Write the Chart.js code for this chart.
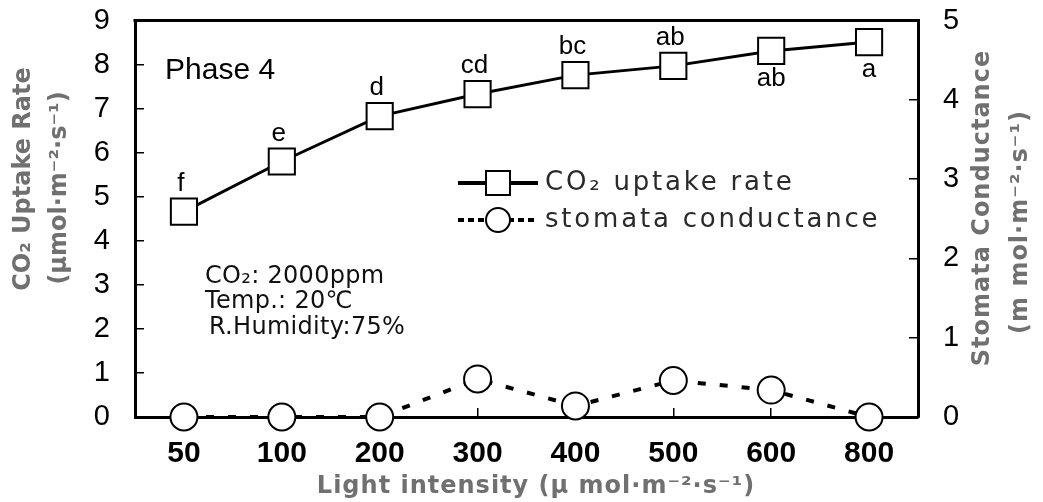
<!DOCTYPE html>
<html>
<head>
<meta charset="utf-8">
<script src="https://cdn.jsdelivr.net/npm/chart.js@4.4.1/dist/chart.umd.min.js"></script>
<style>
  html, body { margin: 0; padding: 0; background: #fff; }
  #wrap { width: 1043px; height: 502px; }
</style>
</head>
<body>
<div id="wrap"><canvas id="uptakeChart"></canvas></div>
<script>
// Lichtstufen und Messwerte
const lightLevels = ['50', '100', '200', '300', '400', '500', '600', '800'];
const co2Uptake = [4.66, 5.8, 6.83, 7.33, 7.76, 7.97, 8.31, 8.51];
const stomataConductance = [0, 0, 0, 0.48, 0.14, 0.46, 0.34, 0];
const sigLetters = ['f', 'e', 'd', 'cd', 'bc', 'ab', 'ab', 'a'];
const letterBelow = [false, false, false, false, false, false, true, true];
const conditions = ['CO\u2082: 2000ppm', 'Temp.: 20\u2103', 'R.Humidity:75%'];

const leftTitle = ['CO\u2082 Uptake Rate', '(\u03bcmol\u00b7m\u207b\u00b2\u00b7s\u207b\u00b9)'];
const rightTitle = ['Stomata Conductance', '(m mol\u00b7m\u207b\u00b2\u00b7s\u207b\u00b9)'];
const xTitle = 'Light intensity (\u03bc mol\u00b7m\u207b\u00b2\u00b7s\u207b\u00b9)';

// Achsen ohne Zusatzabstand für halbe Beschriftungshöhe
function fixAxis(size, horizontal) {
    return (s) => {
        if (horizontal) {
            s.height = size;
            s.paddingLeft = 0;
            s.paddingRight = 0;
        } else {
            s.width = size;
            s.paddingTop = 0;
            s.paddingBottom = 0;
        }
    };
}

// Rahmen, Buchstaben, Legende und Achsentitel zeichnen
const decorPlugin = {
    id: 'decor',
    beforeDatasetsDraw(chart) {
        const ctx = chart.ctx;
        const a = chart.chartArea;
        ctx.save();
        ctx.strokeStyle = '#000';
        ctx.lineWidth = 3;
        ctx.beginPath();
        ctx.moveTo(a.left - 1.5, a.top);
        ctx.lineTo(a.right + 1.5, a.top);
        ctx.stroke();
        ctx.restore();
    },
    afterDatasetsDraw(chart) {
        const ctx = chart.ctx;
        ctx.save();

        // Signifikanzbuchstaben
        const meta = chart.getDatasetMeta(0);
        ctx.fillStyle = '#000';
        ctx.font = '26px "Liberation Sans", Arial, sans-serif';
        ctx.textAlign = 'center';
        meta.data.forEach((pt, i) => {
            if (letterBelow[i]) {
                ctx.textBaseline = 'top';
                ctx.fillText(sigLetters[i], pt.x, pt.y + 15);
            } else {
                ctx.textBaseline = 'bottom';
                ctx.fillText(sigLetters[i], pt.x - 3, pt.y - 15);
            }
        });

        // Phase
        ctx.textAlign = 'left';
        ctx.textBaseline = 'alphabetic';
        ctx.font = '30px "Liberation Sans", Arial, sans-serif';
        ctx.fillText('Phase 4', 165, 79);

        // Versuchsbedingungen
        ctx.fillStyle = '#111';
        ctx.font = '24px "DejaVu Sans", sans-serif';
        ctx.letterSpacing = '0.3px';
        ctx.fillText(conditions[0], 205, 283);
        ctx.fillText(conditions[1], 205, 308);
        ctx.fillText(conditions[2], 209, 334);

        // Legende
        const lx = 458, lw = 80;
        const ly1 = 183, ly2 = 220;
        ctx.strokeStyle = '#000';
        ctx.lineWidth = 4;
        ctx.beginPath();
        ctx.moveTo(lx, ly1);
        ctx.lineTo(lx + lw, ly1);
        ctx.stroke();
        ctx.lineWidth = 2;
        ctx.fillStyle = '#fff';
        ctx.fillRect(lx + lw / 2 - 12, ly1 - 12, 24, 24);
        ctx.strokeRect(lx + lw / 2 - 12, ly1 - 12, 24, 24);

        ctx.lineWidth = 4;
        ctx.setLineDash([6, 4]);
        ctx.beginPath();
        ctx.moveTo(lx, ly2);
        ctx.lineTo(lx + lw, ly2);
        ctx.stroke();
        ctx.setLineDash([]);
        ctx.lineWidth = 2;
        ctx.beginPath();
        ctx.arc(lx + lw / 2, ly2, 12, 0, Math.PI * 2);
        ctx.fill();
        ctx.stroke();

        ctx.fillStyle = '#2a2a2a';
        ctx.font = '26px "DejaVu Sans", sans-serif';
        ctx.letterSpacing = '2.8px';
        ctx.textBaseline = 'middle';
        ctx.fillText(chart.data.datasets[0].label, 545, ly1);
        ctx.fillText(chart.data.datasets[1].label, 545, ly2);

        // Achsentitel (von unten nach oben gelesen)
        ctx.fillStyle = '#707070';
        ctx.font = 'bold 24px "DejaVu Sans", sans-serif';
        ctx.textAlign = 'center';
        const drawVertical = (text, x, y) => {
            ctx.save();
            ctx.translate(x, y);
            ctx.rotate(-Math.PI / 2);
            ctx.fillText(text, 0, 0);
            ctx.restore();
        };
        ctx.letterSpacing = '0px';
        drawVertical(leftTitle[0], 24, 179);
        drawVertical(leftTitle[1], 60, 188);
        ctx.letterSpacing = '1px';
        drawVertical(rightTitle[0], 983, 208);
        drawVertical(rightTitle[1], 1021, 222);
        ctx.fillText(xTitle, 536, 487);

        ctx.restore();
    }
};

const ctx = document.getElementById('uptakeChart').getContext('2d');
window.uptakeChart = new Chart(ctx, {
    type: 'line',
    data: {
        labels: lightLevels,
        datasets: [{
            label: 'CO\u2082 uptake rate',
            data: co2Uptake,
            yAxisID: 'y',
            borderColor: '#000',
            borderWidth: 3,
            pointStyle: 'rect',
            pointRadius: 18.5,
            pointBorderWidth: 2,
            pointBackgroundColor: '#fff',
            pointBorderColor: '#000',
            clip: false
        }, {
            label: 'stomata conductance',
            data: stomataConductance,
            yAxisID: 'y1',
            borderColor: '#000',
            borderWidth: 4,
            borderDash: [8, 14],
            pointStyle: 'circle',
            pointRadius: 13.5,
            pointBorderWidth: 2,
            pointBackgroundColor: '#fff',
            pointBorderColor: '#000',
            clip: false
        }]
    },
    options: {
        responsive: true,
        maintainAspectRatio: false,
        animation: false,
        layout: { padding: { top: 20, left: 0, right: 0, bottom: 0 } },
        plugins: {
            legend: { display: false },
            tooltip: { enabled: false }
        },
        scales: {
            x: {
                offset: true,
                afterFit: fixAxis(85, true),
                border: { display: true, color: '#000', width: 3 },
                grid: { drawOnChartArea: false, tickLength: -9, color: '#000', lineWidth: 1.5 },
                ticks: {
                    color: '#000',
                    padding: 28,
                    font: { family: '"Liberation Sans", Arial, sans-serif', size: 30, weight: 'bold' }
                }
            },
            y: {
                position: 'left',
                min: 0,
                max: 9,
                afterFit: fixAxis(135, false),
                border: { display: true, color: '#000', width: 3 },
                grid: { drawOnChartArea: false, tickLength: -9, color: '#000', lineWidth: 1.5 },
                ticks: {
                    stepSize: 1,
                    color: '#000',
                    padding: 34,
                    font: { family: '"Liberation Sans", Arial, sans-serif', size: 29 }
                }
            },
            y1: {
                position: 'right',
                min: 0,
                max: 5,
                afterFit: fixAxis(125, false),
                border: { display: true, color: '#000', width: 3 },
                grid: { drawOnChartArea: false, tickLength: -9, color: '#000', lineWidth: 1.5 },
                ticks: {
                    stepSize: 1,
                    color: '#000',
                    padding: 34,
                    font: { family: '"Liberation Sans", Arial, sans-serif', size: 29 }
                }
            }
        }
    },
    plugins: [decorPlugin]
});
</script>
</body>
</html>
